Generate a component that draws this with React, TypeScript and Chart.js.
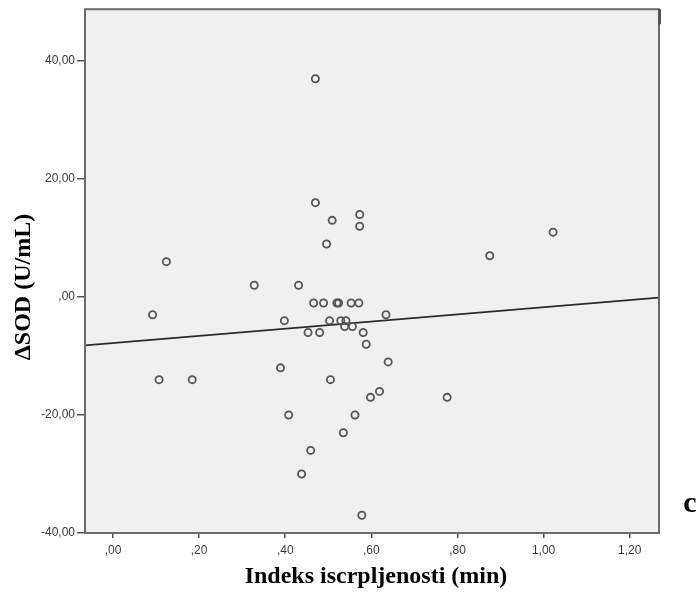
import React, { useEffect, useRef } from "react";
import { Chart, registerables } from "chart.js";

Chart.register(...registerables);

// Data
const indeksX: number[] = [
  0.470, 0.470, 0.509, 0.573, 0.573, 0.496, 1.022, 0.875, 0.124, 0.328, 0.431,
  0.466, 0.489, 0.520, 0.524, 0.553, 0.571, 0.092, 0.634, 0.398, 0.503, 0.529,
  0.541, 0.538, 0.556, 0.453, 0.480, 0.581, 0.588, 0.639, 0.389, 0.107, 0.184,
  0.505, 0.619, 0.598, 0.776, 0.408, 0.562, 0.535, 0.459, 0.438, 0.578,
];
const deltaSOD: number[] = [
  37, 16, 13, 14, 12, 9, 11, 7, 6, 2, 2,
  -1, -1, -1, -1, -1, -1, -3, -3, -4, -4, -4,
  -4, -5, -5, -6, -6, -6, -8, -11, -12, -14, -14,
  -14, -16, -17, -17, -20, -20, -23, -26, -30, -37,
];

// Fit line
const fitIntercept = -7.8;
const fitSlope = 6.08;

// Axis ranges and ticks
const xRange: number[] = [-0.065, 1.268];
const yRange: number[] = [-40, 48.8];
const xTickValues: number[] = [0, 0.2, 0.4, 0.6, 0.8, 1.0, 1.2];
const yTickValues: number[] = [-40, -20, 0, 20, 40];

const xTitle = "Indeks iscrpljenosti (min)";
const yTitle = "ΔSOD (U/mL)";
const panelLabel = "c";

function fmt(v: number): string {
  let s = v.toFixed(2).replace(".", ",");
  if (s.startsWith("0,")) s = s.slice(1);
  if (s.startsWith("-0,")) s = "-" + s.slice(2);
  return s;
}

const framePlugin = {
  id: "framePlugin",
  beforeDatasetsDraw(chart: any) {
    const { ctx, chartArea } = chart;
    ctx.save();
    ctx.fillStyle = "#f0f0f0";
    ctx.fillRect(chartArea.left, chartArea.top, chartArea.right - chartArea.left, chartArea.bottom - chartArea.top);
    ctx.restore();
  },
  afterDraw(chart: any) {
    const { ctx, chartArea } = chart;
    ctx.save();
    ctx.strokeStyle = "#6b6b6b";
    ctx.lineWidth = 2;
    ctx.strokeRect(chartArea.left, chartArea.top, chartArea.right - chartArea.left, chartArea.bottom - chartArea.top);
    // small dark mark at the top-right of the frame
    ctx.strokeStyle = "#555";
    ctx.lineWidth = 3;
    ctx.beginPath();
    ctx.moveTo(chartArea.right + 0.5, chartArea.top);
    ctx.lineTo(chartArea.right + 0.5, chartArea.top + 15);
    ctx.stroke();

    ctx.fillStyle = "#000";
    ctx.textAlign = "center";
    ctx.textBaseline = "middle";
    ctx.font = 'bold 24px "Liberation Serif"';
    ctx.fillText(xTitle, 376, 577);

    ctx.save();
    ctx.translate(24, 287);
    ctx.rotate(-Math.PI / 2);
    ctx.fillText(yTitle, 0, 0);
    ctx.restore();

    ctx.font = 'bold 30px "Liberation Serif"';
    ctx.fillText(panelLabel, 690, 504);
    ctx.restore();
  },
};

export default function App() {
  const ref = useRef<HTMLCanvasElement | null>(null);

  useEffect(() => {
    if (!ref.current) return;
    const points = indeksX.map((x, i) => ({ x, y: deltaSOD[i] }));
    const linePts = xRange.map((x) => ({ x, y: fitIntercept + fitSlope * x }));
    const tickFont = { family: '"Liberation Sans", Arial, sans-serif', size: 12 };

    const chart = new Chart(ref.current, {
      type: "scatter",
      data: {
        datasets: [
          {
            type: "line",
            label: "Fit",
            data: linePts,
            borderColor: "#2b2b2b",
            borderWidth: 1.6,
            pointRadius: 0,
            fill: false,
            order: 2,
          } as any,
          {
            label: "ΔSOD",
            data: points,
            pointRadius: 3.6,
            pointBorderWidth: 1.8,
            pointBorderColor: "#555",
            pointBackgroundColor: "rgba(0,0,0,0)",
            borderColor: "#555",
            backgroundColor: "rgba(0,0,0,0)",
            order: 1,
          },
        ],
      },
      options: {
        responsive: false,
        animation: false,
        layout: { padding: { top: 9, right: 38, left: 0, bottom: 0 } },
        plugins: {
          legend: { display: false },
          tooltip: { enabled: false },
          title: { display: false },
        },
        scales: {
          x: {
            type: "linear",
            min: xRange[0],
            max: xRange[1],
            afterBuildTicks: (s: any) => {
              s.ticks = xTickValues.map((v) => ({ value: v }));
            },
            afterFit: (s: any) => {
              s.height = 64;
            },
            ticks: {
              callback: (v: any) => fmt(Number(v)),
              font: tickFont,
              color: "#3a3a3a",
              padding: 5,
              maxRotation: 0,
            },
            grid: {
              drawOnChartArea: false,
              drawTicks: true,
              tickLength: 5,
              color: "#555",
              lineWidth: 1.5,
            },
            border: { display: false },
          },
          y: {
            type: "linear",
            min: yRange[0],
            max: yRange[1],
            afterBuildTicks: (s: any) => {
              s.ticks = yTickValues.map((v) => ({ value: v }));
            },
            afterFit: (s: any) => {
              s.width = 85;
            },
            ticks: {
              callback: (v: any) => fmt(Number(v)),
              font: tickFont,
              color: "#3a3a3a",
              padding: 2,
            },
            grid: {
              drawOnChartArea: false,
              drawTicks: true,
              tickLength: 8,
              color: "#555",
              lineWidth: 1.5,
            },
            border: { display: false },
          },
        },
      } as any,
      plugins: [framePlugin],
    });
    return () => chart.destroy();
  }, []);

  return (
    <div style={{ position: "absolute", left: 0, top: 0, width: 697, height: 597, background: "#fff" }}>
      <canvas ref={ref} width={697} height={597} />
    </div>
  );
}
